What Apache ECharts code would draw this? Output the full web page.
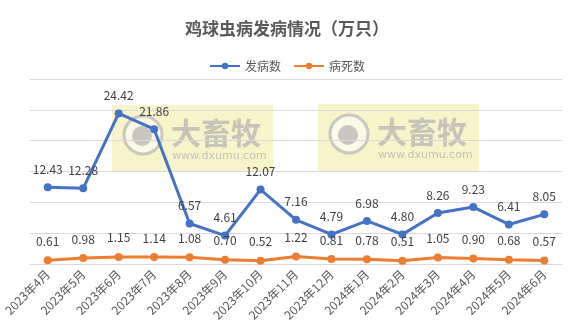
<!DOCTYPE html>
<html>
<head>
<meta charset="utf-8">
<script src="https://cdn.jsdelivr.net/npm/echarts@6/dist/echarts.min.js"></script>
<style>
  html, body { margin: 0; padding: 0; background: #fff; }
  #chart { width: 574px; height: 334px; }
</style>
</head>
<body>
<div id="chart"></div>
<script>
  // 月份
  var months = ['2023年4月', '2023年5月', '2023年6月', '2023年7月', '2023年8月', '2023年9月',
    '2023年10月', '2023年11月', '2023年12月', '2024年1月', '2024年2月', '2024年3月',
    '2024年4月', '2024年5月', '2024年6月'];
  // 发病数（万只）
  var onsetCounts = [12.43, 12.28, 24.42, 21.86, 6.57, 4.61, 12.07, 7.16, 4.79, 6.98, 4.80, 8.26, 9.23, 6.41, 8.05];
  // 病死数（万只）
  var deathCounts = [0.61, 0.98, 1.15, 1.14, 1.08, 0.70, 0.52, 1.22, 0.81, 0.78, 0.51, 1.05, 0.90, 0.68, 0.57];

  var fontFamily = '"Noto Sans CJK SC", "Microsoft YaHei", sans-serif';

  // 水印（两块）
  function watermark(x, y) {
    return {
      type: 'group',
      left: x,
      top: y,
      z: 100,
      silent: true,
      children: [
        { type: 'rect', shape: { x: 0, y: 0, width: 161, height: 67 },
          style: { fill: 'rgba(240,232,150,0.5)' } },
        { type: 'circle', shape: { cx: 31, cy: 30, r: 19 },
          style: { fill: 'rgba(255,255,255,0.55)', stroke: 'rgba(175,175,175,0.65)', lineWidth: 3 } },
        { type: 'circle', shape: { cx: 30, cy: 31, r: 10 },
          style: { fill: 'rgba(170,170,170,0.65)' } },
        { type: 'text', left: 59, top: 13,
          style: { text: '大畜牧', fill: 'rgba(175,175,175,0.7)', font: 'bold 30px ' + fontFamily } },
        { type: 'text', left: 60, top: 46,
          style: { text: 'www.dxumu.com', fill: 'rgba(175,175,175,0.7)', font: '11px "DejaVu Sans", sans-serif' } }
      ]
    };
  }

  var chart = echarts.init(document.getElementById('chart'));

  var option = {
    backgroundColor: '#fff',
    textStyle: { fontFamily: fontFamily },
    title: {
      text: '鸡球虫病发病情况（万只）',
      left: 'center',
      top: 15,
      textStyle: { fontSize: 17, fontWeight: 'bold', color: '#595959', fontFamily: fontFamily }
    },
    legend: {
      data: ['发病数', '病死数'],
      top: 55,
      left: 'center',
      itemWidth: 30,
      itemHeight: 8,
      itemGap: 12,
      textStyle: { fontSize: 12, color: '#595959' }
    },
    grid: {
      left: 30,
      right: 12,
      top: 79,
      bottom: 70,
      containLabel: false
    },
    xAxis: {
      type: 'category',
      data: months,
      boundaryGap: true,
      axisLine: { lineStyle: { color: '#d9d9d9' } },
      axisTick: { show: false },
      axisLabel: { rotate: 45, fontSize: 12, color: '#595959', margin: 8, interval: 0 }
    },
    yAxis: {
      type: 'value',
      min: 0,
      max: 30,
      interval: 5,
      axisLine: { show: false },
      axisTick: { show: false },
      axisLabel: { show: false },
      splitLine: { lineStyle: { color: '#d9d9d9' } }
    },
    series: [
      {
        name: '发病数',
        type: 'line',
        data: onsetCounts,
        symbol: 'circle',
        symbolSize: 8,
        itemStyle: { color: '#4472C4' },
        lineStyle: { width: 3, color: '#4472C4' },
        label: {
          show: true,
          position: 'top',
          distance: 8,
          fontSize: 12,
          color: '#404040',
          formatter: function (p) { return p.value.toFixed(2); }
        }
      },
      {
        name: '病死数',
        type: 'line',
        data: deathCounts,
        symbol: 'circle',
        symbolSize: 8,
        itemStyle: { color: '#ED7D31' },
        lineStyle: { width: 3, color: '#ED7D31' },
        label: {
          show: true,
          position: 'top',
          distance: 9,
          fontSize: 12,
          color: '#404040',
          formatter: function (p) { return p.value.toFixed(2); }
        }
      }
    ],
    graphic: [watermark(112, 105), watermark(318, 104)]
  };

  chart.setOption(option);
</script>
</body>
</html>
